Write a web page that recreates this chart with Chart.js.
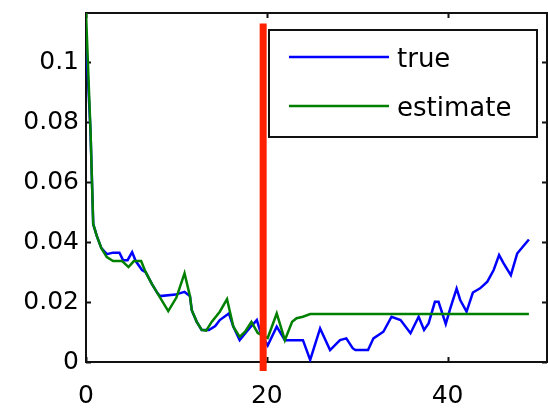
<!DOCTYPE html>
<html>
<head>
<meta charset="utf-8">
<script src="https://cdn.jsdelivr.net/npm/chart.js@4/dist/chart.umd.min.js"></script>
<style>
  html, body { margin: 0; padding: 0; background: #fff; }
  #c { display: block; }
</style>
</head>
<body>
<canvas id="c" width="548" height="409"></canvas>
<script>
// ---- data ----
const seriesNames = ["true", "estimate"];

const trueX = [0, 0.5, 0.8, 1.2, 1.7, 2.3, 3.0, 3.7, 4.1, 4.6, 5.1, 5.5, 6.2, 6.6, 7.3,
  7.9, 8.2, 9.9, 10.9, 11.5, 11.7, 12.25, 12.8, 13.6, 14.3, 14.8, 15.8, 16.3, 17.0, 17.6,
  18.3, 18.9, 19.3, 20.1, 21.1, 22.0, 24.0, 24.8, 25.9, 27.0, 28.1, 28.8, 29.5, 29.8, 31.2,
  31.8, 32.9, 33.8, 34.8, 35.9, 36.8, 37.4, 37.9, 38.6, 39.0, 39.8, 40.3, 41.0, 41.4, 42.1,
  42.8, 43.6, 44.4, 45.1, 45.7, 46.2, 47.0, 47.7, 48.3, 49.0];
const trueY = [0.108, 0.077, 0.046, 0.042, 0.038, 0.036, 0.0365, 0.0365, 0.034, 0.034, 0.0367, 0.0337, 0.0307, 0.030, 0.026,
  0.023, 0.022, 0.0225, 0.0234, 0.022, 0.0173, 0.0134, 0.0107, 0.0107, 0.012, 0.014, 0.0162, 0.0118, 0.0073, 0.0095,
  0.012, 0.014, 0.010, 0.0055, 0.0118, 0.0073, 0.0073, 0.0007, 0.0112, 0.004, 0.0073, 0.0079, 0.0046, 0.004, 0.004,
  0.0079, 0.0101, 0.0151, 0.014, 0.0096, 0.0151, 0.0107, 0.0129, 0.0201, 0.0201, 0.0127, 0.0179, 0.0245, 0.0207, 0.0168,
  0.0232, 0.0246, 0.0268, 0.0307, 0.0357, 0.0329, 0.029, 0.0362, 0.0384, 0.0409];

const estX = [0, 0.5, 0.8, 1.2, 1.7, 2.3, 3.0, 4.0, 4.7, 5.3, 6.1, 6.6, 7.3, 7.9, 9.1,
  10.0, 10.9, 11.5, 11.7, 12.25, 12.8, 13.3, 13.9, 14.8, 15.6, 16.3, 17.0, 17.6, 18.3, 19.0,
  20.1, 21.1, 22.0, 22.8, 23.3, 24.0, 24.8, 49.0];
const estY = [0.1165, 0.077, 0.046, 0.042, 0.038, 0.035, 0.0337, 0.0337, 0.0317, 0.0337, 0.0337, 0.030, 0.026, 0.023, 0.017,
  0.0215, 0.0296, 0.022, 0.0173, 0.0134, 0.0107, 0.0105, 0.0134, 0.0168, 0.021, 0.0118, 0.0084, 0.0101, 0.0134, 0.0097,
  0.008, 0.0162, 0.0073, 0.0134, 0.0146, 0.0151, 0.016, 0.016];

const xTicks = [0, 20, 40];
const yTicks = [0, 0.02, 0.04, 0.06, 0.08, 0.1];
const xTickLabels = ["0", "20", "40"];
const yTickLabels = ["0", "0.02", "0.04", "0.06", "0.08", "0.1"];
const xRange = [0, 51];
const yRange = [0, 0.1165];

// red vertical marker (in data units)
const markerX = 19.6;
const markerYTop = 0.113;
const markerYBottom = -0.003;

// ---- styling ----
const tickFont = { family: "'DejaVu Sans', sans-serif", size: 25 };
const legendFont = "26px 'DejaVu Sans', sans-serif";

const framePlugin = {
  id: 'frame',
  beforeDatasetsDraw(chart) {
    const { ctx, chartArea: a, scales: { x, y } } = chart;
    ctx.save();
    ctx.strokeStyle = '#111';
    ctx.lineWidth = 2;
    ctx.strokeRect(a.left, a.top, a.right - a.left, a.bottom - a.top);
    const tl = 5;
    ctx.beginPath();
    xTicks.forEach(v => {
      const px = Math.round(x.getPixelForValue(v)) + 0.5;
      ctx.moveTo(px, a.bottom); ctx.lineTo(px, a.bottom - tl);
      ctx.moveTo(px, a.top); ctx.lineTo(px, a.top + tl);
    });
    yTicks.forEach(v => {
      const py = Math.round(y.getPixelForValue(v)) + 0.5;
      ctx.moveTo(a.left, py); ctx.lineTo(a.left + tl, py);
      ctx.moveTo(a.right, py); ctx.lineTo(a.right - tl, py);
    });
    ctx.stroke();
    ctx.restore();
  },
  afterDatasetsDraw(chart) {
    const { ctx, chartArea: a, scales: { x, y } } = chart;
    ctx.save();
    // legend box
    const bw = 268, bh = 107;
    const bx = a.right - 10 - bw, by = a.top + 17;
    ctx.fillStyle = '#fff';
    ctx.fillRect(bx, by, bw, bh);
    ctx.strokeStyle = '#111';
    ctx.lineWidth = 2;
    ctx.strokeRect(bx, by, bw, bh);
    ctx.font = legendFont;
    ctx.textBaseline = 'middle';
    ctx.textAlign = 'left';
    const rows = [by + 27, by + 76];
    chart.data.datasets.forEach((ds, i) => {
      const ly = rows[i];
      ctx.strokeStyle = ds.borderColor;
      ctx.lineWidth = 2.5;
      ctx.beginPath();
      ctx.moveTo(bx + 20, ly); ctx.lineTo(bx + 120, ly);
      ctx.stroke();
      ctx.fillStyle = '#000';
      ctx.fillText(ds.label, bx + 128, ly + 3);
    });
    // red marker line
    const mx = x.getPixelForValue(markerX);
    ctx.strokeStyle = 'rgb(255,34,0)';
    ctx.lineWidth = 7;
    ctx.beginPath();
    ctx.moveTo(mx, y.getPixelForValue(markerYTop));
    ctx.lineTo(mx, y.getPixelForValue(markerYBottom));
    ctx.stroke();
    ctx.restore();
  }
};

new Chart(document.getElementById('c'), {
  type: 'line',
  data: {
    datasets: [
      {
        label: seriesNames[0],
        data: trueX.map((v, i) => ({ x: v, y: trueY[i] })),
        borderColor: 'rgb(0,0,255)',
        borderWidth: 2.5,
        pointRadius: 0,
        tension: 0,
        fill: false,
        order: 2
      },
      {
        label: seriesNames[1],
        data: estX.map((v, i) => ({ x: v, y: estY[i] })),
        borderColor: 'rgb(0,128,0)',
        borderWidth: 2.5,
        pointRadius: 0,
        tension: 0,
        fill: false,
        order: 1
      }
    ]
  },
  options: {
    responsive: false,
    animation: false,
    devicePixelRatio: 1,
    layout: { padding: { top: 13, right: 1, left: 0, bottom: 0 } },
    plugins: { legend: { display: false }, tooltip: { enabled: false } },
    scales: {
      x: {
        type: 'linear',
        min: xRange[0], max: xRange[1],
        grid: { display: false, drawTicks: false },
        border: { display: false },
        afterBuildTicks: s => { s.ticks = xTicks.map(v => ({ value: v })); },
        afterFit: s => { s.height = 47; s.paddingLeft = 0; s.paddingRight = 0; },
        ticks: {
          color: '#000', font: tickFont, padding: 19, maxRotation: 0, autoSkip: false,
          callback: v => xTickLabels[xTicks.indexOf(v)] ?? String(v)
        }
      },
      y: {
        type: 'linear',
        min: yRange[0], max: yRange[1],
        grid: { display: false, drawTicks: false },
        border: { display: false },
        afterBuildTicks: s => { s.ticks = yTicks.map(v => ({ value: v })); },
        afterFit: s => { s.width = 86; s.paddingTop = 0; s.paddingBottom = 0; },
        ticks: {
          color: '#000', font: tickFont, padding: 7, autoSkip: false,
          callback: v => yTickLabels[yTicks.indexOf(v)] ?? String(v)
        }
      }
    }
  },
  plugins: [framePlugin]
});
</script>
</body>
</html>
